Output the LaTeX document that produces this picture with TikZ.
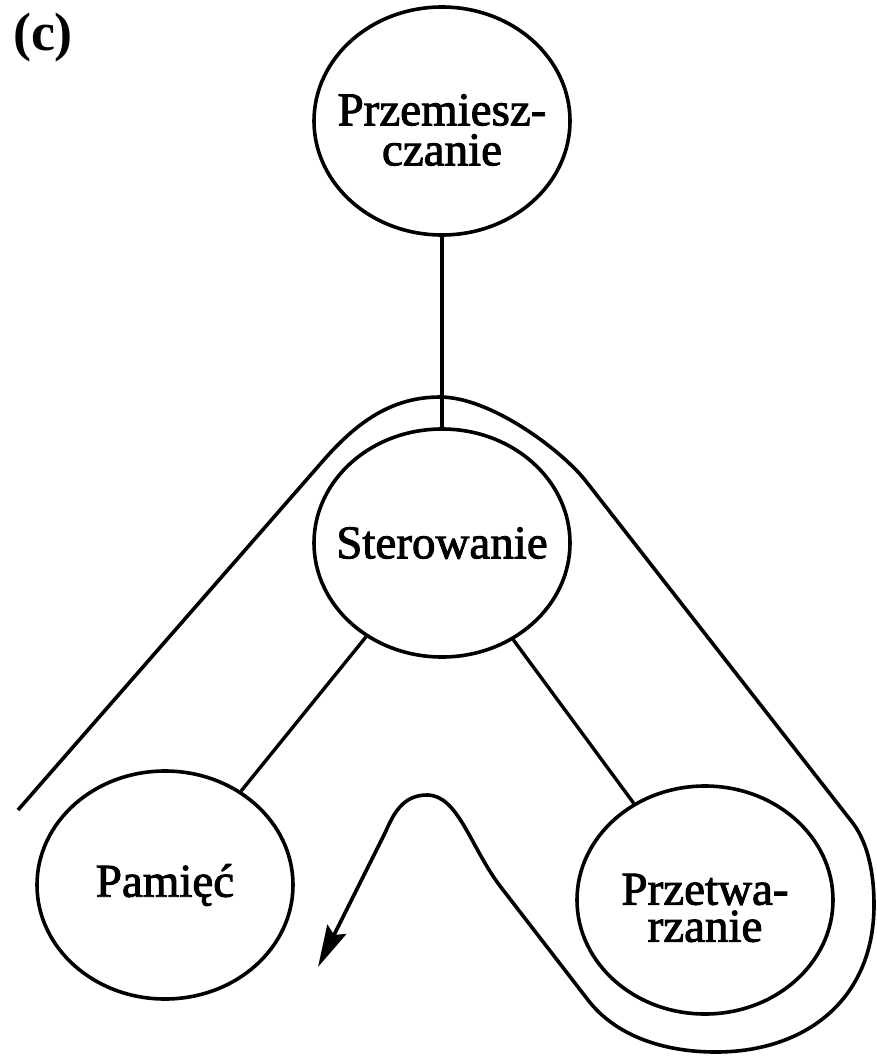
\documentclass[tikz,border=0pt]{standalone}
\usepackage{fontspec}
\setmainfont{Liberation Serif}
\newfontfamily\diagfont{Liberation Serif}[FakeBold=2]
\usetikzlibrary{shapes.geometric,arrows.meta}
\begin{document}
\begin{tikzpicture}[x=1pt,y=-1pt,
  blob/.style={draw, ellipse, line width=3.6pt, minimum width=256pt, minimum height=228pt, inner sep=0pt},
  txt/.style={font=\diagfont\fontsize{47}{40}\selectfont, align=center, inner sep=0pt},
  link/.style={line width=3.4pt},
  flow/.style={line width=3.6pt, line join=round, -{Stealth[length=42pt,width=21pt,inset=6pt]}}]
\useasboundingbox (0,0) rectangle (877,1057);

% panel label
\node[font=\fontsize{54}{54}\selectfont\bfseries, inner sep=0pt] (lbl) at (43,38) {(c)};

% the four functions
\node[blob, label={[txt,yshift=-9pt]center:Przemiesz-\\czanie}] (move) at (442,121) {};
\node[blob, label={[txt]center:Sterowanie}] (ctrl) at (442,543) {};
\node[blob, label={[txt]center:Pamięć}] (mem) at (165,885) {};
\node[blob, label={[txt,font=\diagfont\fontsize{47}{37}\selectfont,yshift=-8pt]center:Przetwa-\\rzanie}] (proc) at (705,900) {};

% links between the functions
\draw[link] (move) -- (ctrl);
\draw[link] (ctrl) -- (mem);
\draw[link] (ctrl) -- (proc);

% the flow path around control and processing
\coordinate (fstart) at (18,810);
\coordinate (fend) at (318,967);
\draw[flow] (fstart) -- (322,462)
  .. controls (355,424) and (390,397) .. (440,397)
  .. controls (490,397) and (560,449) .. (585,480)
  -- (852,822)
  .. controls (866,840) and (874,868) .. (874,905)
  .. controls (874,1000) and (805,1052) .. (716,1052)
  .. controls (662,1052) and (615,1035) .. (588,1000)
  -- (500,886)
  .. controls (470,846) and (458,795) .. (427,795)
  .. controls (402,795) and (393,815) .. (385,833)
  -- (fend);
\end{tikzpicture}
\end{document}
